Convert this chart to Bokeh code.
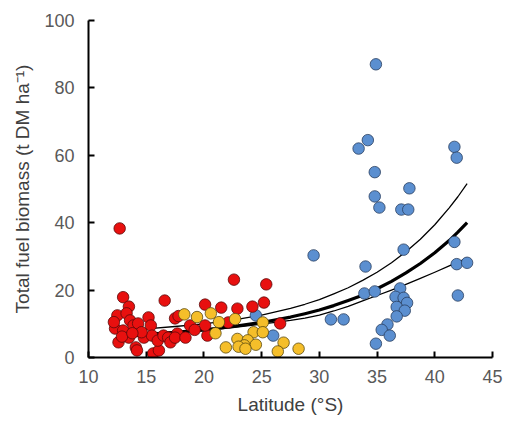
from bokeh.plotting import figure
from bokeh.models import FixedTicker
from bokeh.embed import file_html
from bokeh.resources import INLINE

# Red series (northern sites)
red_x = [12.7, 13.0, 13.5, 16.6, 22.6, 25.4, 20.1, 21.5, 22.9, 24.2, 25.2, 12.5, 12.3, 12.6,
         13.3, 13.6, 13.0, 13.9, 13.5, 14.1, 14.2, 15.2, 15.4, 15.6, 16.1, 14.8, 14.3, 15.5,
         16.0, 16.5, 16.9, 17.1, 17.5, 17.7, 17.5, 18.4, 18.8, 20.3, 20.1, 22.1, 26.6, 12.2,
         14.6, 17.8, 19.2, 12.9, 13.8]
red_y = [38.3, 17.9, 15.1, 16.9, 23.1, 21.7, 15.7, 14.8, 14.5, 15.1, 16.3, 12.5, 8.6, 4.5,
         13.1, 11.0, 8.0, 9.5, 5.9, 3.0, 2.1, 11.9, 9.5, 1.2, 2.1, 5.9, 10.1, 6.5,
         5.0, 6.5, 5.9, 4.5, 11.6, 7.1, 5.9, 5.9, 9.5, 6.5, 9.5, 10.4, 10.1, 10.5,
         7.5, 12.3, 8.2, 6.2, 7.2]

# Yellow series
yel_x = [18.3, 19.4, 20.6, 21.3, 22.7, 21.0, 25.1, 24.3, 25.1, 22.9, 23.8, 21.9, 23.5,
         24.5, 26.9, 28.2, 26.4, 23.0, 23.6]
yel_y = [12.8, 12.0, 13.1, 10.5, 11.4, 7.2, 10.4, 7.5, 7.5, 5.5, 5.1, 3.0, 3.6,
         3.8, 4.4, 2.6, 1.8, 3.2, 2.6]

# Blue series
blue_x = [34.9, 34.2, 33.4, 34.8, 34.8, 35.2, 37.8, 37.1, 37.7, 41.7, 41.9, 29.5, 34.0,
          37.3, 41.7, 41.9, 42.8, 42.0, 31.0, 32.1, 33.9, 34.8, 37.0, 36.6, 37.3, 37.6,
          36.7, 37.4, 36.7, 35.9, 35.4, 36.1, 34.9, 24.5, 26.0]
blue_y = [87.0, 64.5, 62.0, 55.0, 47.8, 44.5, 50.2, 43.9, 43.9, 62.5, 59.3, 30.3, 27.0,
          32.0, 34.3, 27.7, 28.1, 18.4, 11.3, 11.3, 19.0, 19.6, 20.5, 18.0, 17.7, 16.2,
          15.0, 13.9, 12.2, 9.8, 8.2, 6.5, 4.1, 12.5, 6.5]

# Fitted curve and confidence bounds
fit_x = [12.5, 15, 17.5, 20, 22.5, 25, 27.5, 28.75, 30, 31.25, 32.5, 33.75, 35,
         36.25, 37.5, 38.75, 40, 41.25, 42.0, 42.8]
fit_mid = [6.5, 6.9, 7.5, 8.2, 9.2, 10.4, 12.0, 13.0, 14.1, 15.4, 16.9, 18.5, 20.4,
           22.6, 25.1, 27.9, 31.1, 34.7, 37.2, 40.0]
fit_up = [8.0, 8.5, 9.2, 10.0, 11.1, 12.6, 14.6, 15.8, 17.2, 18.9, 20.7, 22.9, 25.3,
          28.1, 31.4, 35.1, 39.4, 44.4, 47.7, 51.6]
fit_lo = [5.9, 6.5, 7.2, 8.0, 8.9, 9.9, 11.0, 11.7, 12.6, 13.8, 15.2, 16.8, 18.4,
          20.0, 21.7, 23.5, 25.3, 27.2, 28.3, 29.5]

x_ticks = [10, 15, 20, 25, 30, 35, 40, 45]
y_ticks = [0, 20, 40, 60, 80, 100]

p = figure(width=508, height=426, x_range=(10, 45), y_range=(0, 100),
           output_backend="svg", toolbar_location=None,
           min_border_left=88, min_border_right=16, min_border_top=20, min_border_bottom=69)
p.outline_line_color = None
p.grid.visible = False
p.background_fill_color = "white"
p.border_fill_color = "white"

for ys, w in ((fit_up, 1.3), (fit_lo, 1.3), (fit_mid, 3.2)):
    p.line(fit_x, ys, line_color="black", line_width=w, line_join="round")

size = 11.5
p.scatter(blue_x, blue_y, size=size, fill_color="#5B8FD0", line_color="#2A3F5F", line_width=0.8)
p.scatter(red_x, red_y, size=size, fill_color="#E8100F", line_color="#5A0A0A", line_width=0.8)
p.scatter(yel_x, yel_y, size=size, fill_color="#F5BE2A", line_color="#5A4A10", line_width=0.8)

for ax in (p.xaxis[0], p.yaxis[0]):
    ax.axis_line_color = "black"
    ax.axis_line_width = 2
    ax.major_tick_line_color = "black"
    ax.major_tick_line_width = 2
    ax.major_tick_in = 6
    ax.major_tick_out = 0
    ax.minor_tick_line_color = None
    ax.major_label_text_font = "Liberation Sans"
    ax.major_label_text_font_size = "18px"
    ax.major_label_text_color = "#595959"
    ax.axis_label_text_font = "Liberation Sans"
    ax.axis_label_text_font_size = "19px"
    ax.axis_label_text_font_style = "normal"
    ax.axis_label_text_color = "#404040"

p.xaxis.ticker = FixedTicker(ticks=x_ticks)
p.yaxis.ticker = FixedTicker(ticks=y_ticks)
p.xaxis.axis_label = "Latitude (°S)"
p.yaxis.axis_label = "Total fuel biomass (t DM ha⁻¹)"
p.xaxis.major_label_standoff = 12
p.yaxis.major_label_standoff = 14
p.xaxis.axis_label_standoff = 8
p.yaxis.axis_label_standoff = 8

open("out.html", "w").write(file_html(p, INLINE))
